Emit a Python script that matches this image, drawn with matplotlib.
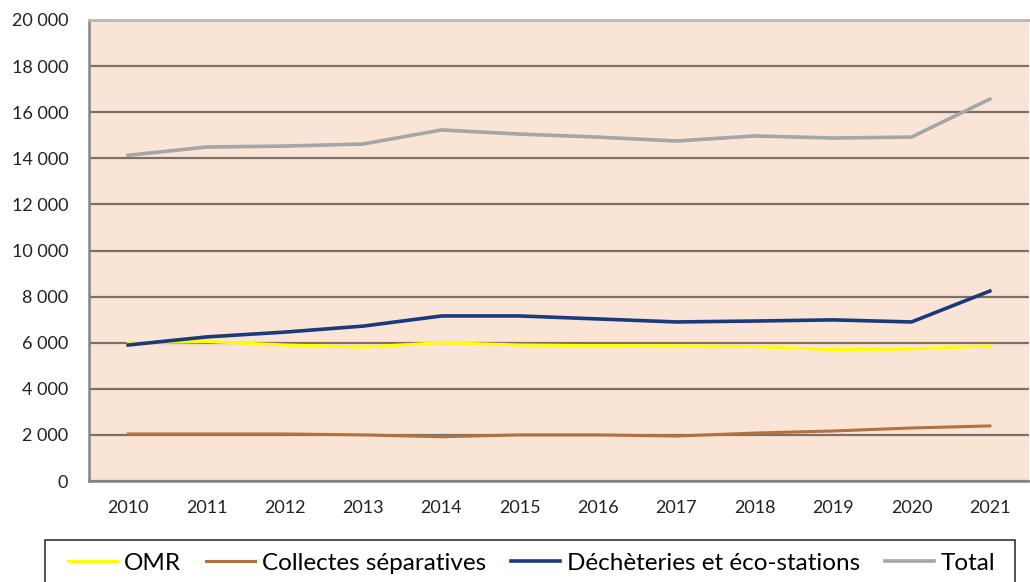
import matplotlib.pyplot as plt
from matplotlib.patches import Rectangle
from matplotlib.ticker import FuncFormatter

years = ['2010', '2011', '2012', '2013', '2014', '2015', '2016', '2017', '2018', '2019', '2020', '2021']
omr = [5990, 6050, 5900, 5810, 6000, 5900, 5870, 5860, 5830, 5700, 5730, 5860]
collectes = [2040, 2040, 2040, 2000, 1920, 2000, 2000, 1950, 2080, 2170, 2300, 2390]
decheteries = [5900, 6250, 6460, 6720, 7160, 7160, 7030, 6900, 6940, 6990, 6900, 8240]
total = [14130, 14490, 14530, 14620, 15230, 15050, 14920, 14750, 14970, 14880, 14920, 16570]

plt.rcParams['font.family'] = ['Lato', 'DejaVu Sans']

fig = plt.figure(figsize=(10.3, 5.82), dpi=100)
ax = fig.add_axes([89 / 1030, 1 - 481 / 582, 940 / 1030, 461 / 582])
ax.set_facecolor('#fae4d6')

x = range(len(years))
ax.plot(x, omr, color='#ffff00', lw=2.2, label='OMR')
ax.plot(x, collectes, color='#b5703f', lw=2.2, label='Collectes séparatives')
ax.plot(x, decheteries, color='#1a3a7c', lw=2.6, label='Déchèteries et éco-stations')
ax.plot(x, total, color='#a6a6a6', lw=2.6, label='Total')

ax.set_xlim(-0.5, len(years) - 0.5)
ax.set_ylim(0, 20000)
ax.set_yticks(range(0, 20001, 2000))
ax.yaxis.set_major_formatter(FuncFormatter(lambda v, p: f"{int(v):,}".replace(',', ' ')))
ax.set_xticks(list(x))
ax.set_xticklabels(years)
ax.tick_params(length=0, labelsize=13, colors='#222222')
ax.tick_params(axis='y', pad=15)
ax.tick_params(axis='x', pad=14)

ax.grid(axis='y', color='#7d7068', lw=1.6)
ax.set_axisbelow(True)
for side in ['left', 'bottom']:
    ax.spines[side].set_color('#858585')
    ax.spines[side].set_linewidth(1.8)
ax.spines['top'].set_color('#b8b8b8')
ax.spines['top'].set_linewidth(2)
ax.spines['right'].set_visible(False)

# legend box runs off the bottom of the picture, so draw the frame by hand
fig.patches.append(Rectangle((45 / 1030, -0.05), 970 / 1030, 0.05 + 1 - 540 / 582,
                             transform=fig.transFigure, facecolor='white',
                             edgecolor='#333333', lw=1.2))
leg = fig.legend(loc='center left', bbox_to_anchor=(68 / 1030, 1 - 563 / 582), ncol=4,
                 fontsize=17.5, handlelength=2.0, columnspacing=1.03, handletextpad=0.3,
                 frameon=False, borderpad=0, borderaxespad=0)

fig.savefig('out.png', dpi=100)
